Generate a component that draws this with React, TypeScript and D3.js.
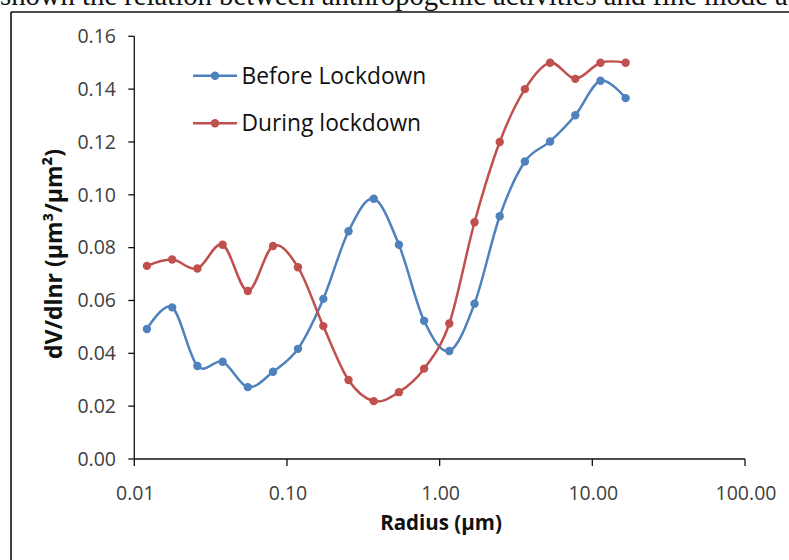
import React from "react";
import * as d3 from "d3";

const radius = [0.0121, 0.0177, 0.0259, 0.0379, 0.0554, 0.081, 0.118, 0.173, 0.253, 0.37, 0.541, 0.791, 1.157, 1.692, 2.474, 3.617, 5.289, 7.733, 11.31, 16.53];
const beforeLockdown = [0.0492, 0.0574, 0.0352, 0.0368, 0.0272, 0.033, 0.0417, 0.0606, 0.0862, 0.0985, 0.0811, 0.0523, 0.0409, 0.0588, 0.0919, 0.1126, 0.1202, 0.1301, 0.1432, 0.1366];
const duringLockdown = [0.0731, 0.0755, 0.0721, 0.0811, 0.0636, 0.0806, 0.0726, 0.0503, 0.0299, 0.0219, 0.0253, 0.0342, 0.0513, 0.0896, 0.12, 0.14, 0.15, 0.1439, 0.15, 0.15];
const xTicks = [0.01, 0.1, 1, 10, 100];
const xTickLabels = ["0.01", "0.10", "1.00", "10.00", "100.00"];
const yTicks = [0, 0.02, 0.04, 0.06, 0.08, 0.1, 0.12, 0.14, 0.16];
const seriesNames = ["Before Lockdown", "During lockdown"];
const seriesColors = ["#4F81BD", "#C0504D"];
const caption = "shown the relation between anthropogenic activities and fine mode a";

const W = 789;
const H = 560;
const FONT = "'Open Sans', sans-serif";

export default function App() {
  const x = d3.scaleLog().domain([0.01, 100]).range([134.3, 745]);
  const y = d3.scaleLinear().domain([0, 0.16]).range([459, 36.3]);
  const line = d3
    .line<number>()
    .x((_, i) => x(radius[i]))
    .y((v) => y(v))
    .curve(d3.curveCardinal.tension(0));
  const series = [beforeLockdown, duringLockdown];
  const x0 = x.range()[0];
  const y0 = y.range()[0];

  return (
    <svg
      width={W}
      height={H}
      style={{ position: "absolute", left: 0, top: 0, background: "#fff" }}
    >
      <rect x={0} y={0} width={W} height={H} fill="#fff" />
      <text x={0} y={5} fontFamily="'Liberation Serif', 'Times New Roman', serif" fontSize={28.7} fill="#111">
        {caption}
      </text>
      <line x1={11} y1={12} x2={W} y2={12} stroke="#111" strokeWidth={1.6} />
      <line x1={11} y1={12} x2={11} y2={H} stroke="#111" strokeWidth={1.6} />

      {/* axes */}
      <line x1={x0} y1={y(0.16)} x2={x0} y2={y0} stroke="#111" strokeWidth={1.3} />
      <line x1={x0} y1={y0} x2={x(100)} y2={y0} stroke="#111" strokeWidth={1.3} />
      {yTicks.map((t) => (
        <g key={"y" + t}>
          <line x1={x0 - 6} x2={x0} y1={y(t)} y2={y(t)} stroke="#111" strokeWidth={1.3} />
          <text
            x={116}
            y={y(t)}
            dy="0.35em"
            textAnchor="end"
            fontFamily={FONT}
            fontSize={19.5}
            fill="#404040"
          >
            {t.toFixed(2)}
          </text>
        </g>
      ))}
      {xTicks.map((t, i) => (
        <g key={"x" + t}>
          <line x1={x(t)} x2={x(t)} y1={y0} y2={y0 + 7} stroke="#111" strokeWidth={1.3} />
          <text
            x={x(t) + 1}
            y={493}
            dy="0.35em"
            textAnchor="middle"
            fontFamily={FONT}
            fontSize={19.5}
            fill="#404040"
          >
            {xTickLabels[i]}
          </text>
        </g>
      ))}

      <text
        x={441}
        y={523}
        dy="0.35em"
        textAnchor="middle"
        fontFamily={FONT}
        fontWeight="bold"
        fontSize={20.5}
        fill="#111"
      >
        Radius (µm)
      </text>
      <text
        transform="translate(62,254) rotate(-90)"
        textAnchor="middle"
        fontFamily={FONT}
        fontWeight="bold"
        fontSize={23}
        fill="#111"
      >
        dV/dlnr (µm³/µm²)
      </text>

      {/* series */}
      {series.map((s, k) => (
        <g key={"s" + k}>
          <path d={line(s) || ""} fill="none" stroke={seriesColors[k]} strokeWidth={2.5} />
          {s.map((v, i) => (
            <circle key={i} cx={x(radius[i])} cy={y(v)} r={4.2} fill={seriesColors[k]} />
          ))}
        </g>
      ))}

      {/* legend */}
      {seriesNames.map((name, k) => {
        const ly = 75.7 + k * 47.6;
        return (
          <g key={"l" + k}>
            <line x1={193} x2={237} y1={ly} y2={ly} stroke={seriesColors[k]} strokeWidth={2.5} />
            <circle cx={215} cy={ly} r={4.2} fill={seriesColors[k]} />
            <text x={241.5} y={ly} dy="0.35em" fontFamily={FONT} fontSize={22.8} fill="#111">
              {name}
            </text>
          </g>
        );
      })}
    </svg>
  );
}
